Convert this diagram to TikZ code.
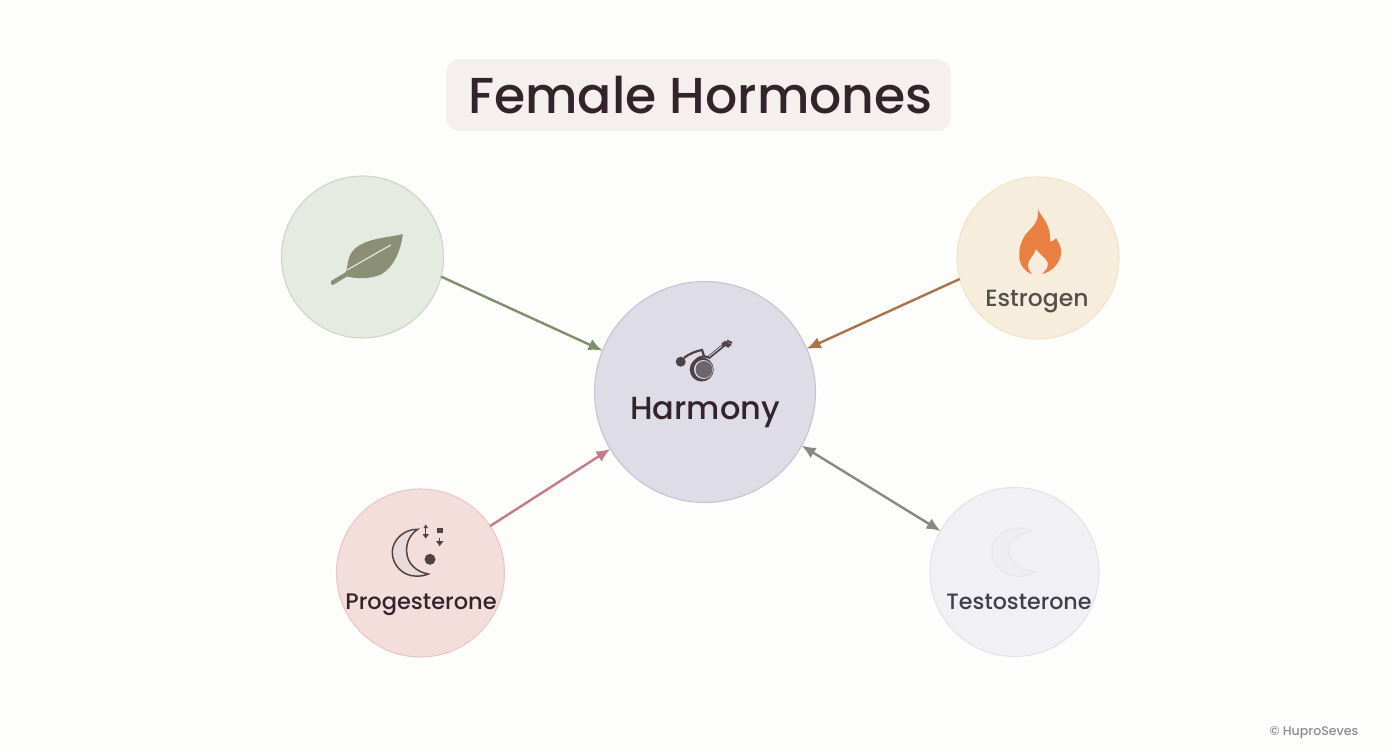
\documentclass[tikz,border=0pt]{standalone}
\usepackage{fontspec}
\setmainfont{Poppins Medium}
\usetikzlibrary{arrows.meta}
\definecolor{bgc}{HTML}{FDFDFC}
\definecolor{ink}{HTML}{33232A}
\definecolor{HTMLtitle}{HTML}{F5EFEE}
\definecolor{HTMLa}{HTML}{E6EBE2}
\definecolor{HTMLab}{HTML}{CCD6C6}
\definecolor{HTMLb}{HTML}{F6EDDC}
\definecolor{HTMLbb}{HTML}{F2E4C8}
\definecolor{HTMLc}{HTML}{DEDCE7}
\definecolor{HTMLcb}{HTML}{C6C3D6}
\definecolor{HTMLd}{HTML}{F3DEDB}
\definecolor{HTMLdb}{HTML}{E8C8C8}
\definecolor{HTMLe}{HTML}{F1F1F5}
\definecolor{HTMLeb}{HTML}{E2E2E8}
\definecolor{HTMLl1}{HTML}{7F8F6D}
\definecolor{HTMLl2}{HTML}{A9744C}
\definecolor{HTMLl3}{HTML}{C47A88}
\definecolor{HTMLl4}{HTML}{8A8880}
\definecolor{HTMLleaf}{HTML}{8A8F76}
\definecolor{HTMLflame}{HTML}{E97F41}
\definecolor{HTMLdk}{HTML}{4F4145}
\definecolor{HTMLgr}{HTML}{6C666C}
\definecolor{HTMLmoon}{HTML}{E9DADA}
\definecolor{HTMLtm}{HTML}{EEEEF1}
\definecolor{HTMLtb}{HTML}{E6E6EA}
\definecolor{HTMLt1}{HTML}{54504A}
\definecolor{HTMLt2}{HTML}{3F3E49}
\definecolor{HTMLw}{HTML}{8A8F92}
\tikzset{
  hub/.style={circle,inner sep=0pt,outer sep=0pt,line width=1.1pt},
  lab/.style={inner sep=0pt,anchor=base,text=#1},
  link/.style={line width=2.4pt},
  tip/.style={-{Latex[length=14pt,width=12pt,color=#1]}},
}
\begin{document}
\begin{tikzpicture}[x=1pt,y=-1pt]
\useasboundingbox (0,0) rectangle (1392,752);
\fill[bgc] (0,0) rectangle (1392,752);
% title
\node[minimum width=505pt,minimum height=72pt,inner sep=0pt,fill=HTMLtitle,rounded corners=14pt] (titlebox) at (698.5,95) {};
\node[lab=ink,font=\fontsize{50.5}{52}\selectfont] (title) at (700.5,113) {Female Hormones};
% circles
\node[hub,minimum size=162pt,fill=HTMLa,draw=HTMLab] (leaf) at (362.5,257) {};
\node[hub,minimum size=162pt,fill=HTMLb,draw=HTMLbb] (est) at (1038,258) {};
\node[hub,minimum size=221pt,fill=HTMLc,draw=HTMLcb] (har) at (705,392) {};
\node[hub,minimum size=168pt,fill=HTMLd,draw=HTMLdb] (pro) at (420.5,573) {};
\node[hub,minimum size=169pt,fill=HTMLe,draw=HTMLeb] (tes) at (1014.5,572) {};
% connectors
\draw[link,draw=HTMLl1,tip=HTMLl1] (leaf.-14) -- (har.158);
\draw[link,draw=HTMLl2,tip=HTMLl2] (est.195) -- (har.23);
\draw[link,draw=HTMLl3,tip=HTMLl3] (pro.34) -- (har.211);
\draw[link,draw=HTMLl4,{Latex[length=14pt,width=12pt]}-{Latex[length=14pt,width=12pt]}] (tes.151) -- (har.-29);
% leaf icon
\fill[HTMLleaf] (402.8,234) .. controls (388,238) and (362,238) .. (352,252)
  .. controls (347,259) and (348,266) .. (346,272) -- (331,281) -- (331,284) -- (333,285) -- (347,276.5)
  .. controls (356,279) and (371,279) .. (381,274.5)
  .. controls (394,267) and (401,250) .. (402.8,234) -- cycle;
\draw[HTMLa,line width=1.1pt] (347,270) -- (390.7,245);
% flame icon
\fill[HTMLflame] (1037.7,209.3) .. controls (1042,218) and (1051,224) .. (1050,241.7)
  .. controls (1053,241) and (1055,240) .. (1056,238)
  .. controls (1059,243) and (1062,249) .. (1061,254)
  .. controls (1060,263) and (1052,272) .. (1041.7,274)
  .. controls (1045,271) and (1049,268) .. (1047.5,262)
  .. controls (1045,257) and (1040,255) .. (1036,249)
  .. controls (1034,256) and (1028,259) .. (1028,265)
  .. controls (1028,269) and (1030,272) .. (1032,274)
  .. controls (1025,272) and (1019,264) .. (1019.3,256.7)
  .. controls (1019,247) and (1021,241) .. (1026,234)
  .. controls (1031,228) and (1040,222) .. (1037.7,209.3) -- cycle;
% harmony icon
\fill[HTMLdk] (680.7,361.7) circle (5pt);
\fill[HTMLdk] (701.7,369.5) circle (12pt);
\fill[HTMLc] (703.5,369.5) circle (9.5pt);
\fill[HTMLgr] (704,369.5) circle (8.5pt);
\draw[HTMLdk,line width=2.2pt] (684,358) .. controls (690,353) and (697,351) .. (702,350) -- (704,356);
\draw[HTMLdk,line width=2.2pt] (693,365) .. controls (695,358) and (702,355) .. (708,357);
\draw[HTMLdk,line width=3.4pt] (708,358) -- (724,345);
\draw[HTMLc,line width=.8pt] (709,356.5) -- (722,346);
\draw[HTMLdk,line width=2pt] (722,343) -- (729,347) (724,341.5) -- (731,345.5) (727,340.5) -- (732,343);
% progesterone icon
\fill[HTMLmoon,draw=HTMLdk,line width=1.5pt] (417.7,529.3) .. controls (404,529) and (392.5,540) .. (392.3,551.7)
  .. controls (392,566) and (404,576) .. (415,576) .. controls (420,576.5) and (425,575.5) .. (428.3,574)
  .. controls (416,572) and (407,563) .. (406.7,551.7) .. controls (406,541) and (411,534) .. (417.7,529.3) -- cycle;
\fill[HTMLdk] (430,559.3) circle (5.5pt);
\fill[HTMLdk] (437,528.3) rectangle (443,533);
\draw[HTMLdk,line width=1pt] (425.7,525) -- (425.7,538);
\fill[HTMLdk] (423.5,528) -- (425.7,524.5) -- (428,528) -- cycle;
\fill[HTMLdk] (422.5,534) -- (429,534) -- (425.7,538.5) -- cycle;
\fill[HTMLdk] (436,541) -- (443.5,541) -- (439.7,546) -- cycle;
\draw[HTMLdk,line width=1pt] (439.7,537.5) -- (439.7,546);
% testosterone icon
\fill[HTMLtm,draw=HTMLtb,line width=1pt] (1031.7,531.7) .. controls (1022,524) and (992,528) .. (992,552)
  .. controls (992,575) and (1022,582) .. (1035,571.7)
  .. controls (1018,570) and (1009,561) .. (1009,550)
  .. controls (1009,541) and (1018,533) .. (1031.7,531.7) -- cycle;
% labels
\node[lab=HTMLt1,font=\fontsize{23.5}{24}\selectfont] (l1) at (1037,306) {Estrogen};
\node[lab=ink,font=\fontsize{32}{32}\selectfont] (l2) at (705,419) {Harmony};
\node[lab=ink,font=\fontsize{22.5}{24}\selectfont] (l3) at (421,609) {Progesterone};
\node[lab=HTMLt2,font=\fontsize{22.2}{24}\selectfont] (l4) at (1019,609) {Testosterone};
\node[lab=HTMLw,font=\fontsize{12.6}{12}\selectfont] (wm) at (1314,735) {© HuproSeves};
\end{tikzpicture}
\end{document}
